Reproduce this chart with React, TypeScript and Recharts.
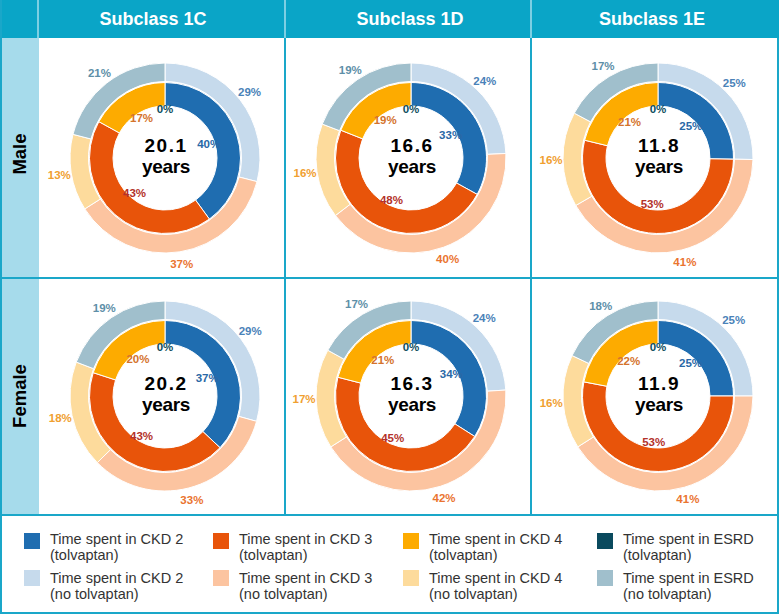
import { PieChart, Pie, Cell } from "recharts";

// stages shown in each ring, clockwise from 12 o'clock
const stages = ["CKD 2", "CKD 3", "CKD 4", "ESRD"];
const subclasses = ["Subclass 1C", "Subclass 1D", "Subclass 1E"];
const sexes = ["Male", "Female"];

// inner ring = tolvaptan, outer ring = no tolvaptan (% of time)
const maleTolvaptan = [
  [40, 43, 17, 0],
  [33, 48, 19, 0],
  [25, 53, 21, 0],
];
const maleNoTolvaptan = [
  [29, 37, 13, 21],
  [24, 40, 16, 19],
  [25, 41, 16, 17],
];
const femaleTolvaptan = [
  [37, 43, 20, 0],
  [34, 45, 21, 0],
  [25, 53, 22, 0],
];
const femaleNoTolvaptan = [
  [29, 33, 18, 19],
  [24, 42, 17, 17],
  [25, 41, 16, 18],
];
const maleYears = ["20.1", "16.6", "11.8"];
const femaleYears = ["20.2", "16.3", "11.9"];

const tolvColors = ["#1f6db0", "#e8540a", "#fdab00", "#0a4a5e"];
const noTolvColors = ["#c6daec", "#fcc4a0", "#fddb9c", "#a0bfcc"];
const innerLabelColors = ["#2a68a6", "#b3322a", "#d4732c", "#0e4e5e"];
const outerLabelColors = ["#4a82b8", "#ea7430", "#f0a030", "#5e8fa8"];

const FONT = "'Liberation Sans', Arial, sans-serif";
const TEAL = "#0aa5c7";
const LINE = "#1aa7c9";
const PALE = "#a6dbeb";

const colCenters = [165, 411, 658];
const rowCenters = [158, 396];
const headerCenters = [153, 410, 652];
const rowLabelCenters = [154, 396];
const BOX = 250;

const RAD = Math.PI / 180;
const makeLabel = (r: number, colors: string[]) => (props: any) => {
  const { cx, cy, midAngle, value, index } = props;
  // the empty ESRD slice sits a little higher, above the centre text
  const rr = value === 0 ? r + 3 : r;
  const x = cx + rr * Math.cos(-midAngle * RAD);
  const y = cy + rr * Math.sin(-midAngle * RAD);
  return (
    <text
      x={x}
      y={y}
      fill={colors[index]}
      textAnchor="middle"
      dominantBaseline="central"
      fontSize={11.5}
      fontWeight="bold"
      fontFamily={FONT}
    >
      {value}%
    </text>
  );
};

const Donut = ({ inner, outer, years }: { inner: number[]; outer: number[]; years: string }) => {
  const innerData = stages.map((s, i) => ({ name: s, value: inner[i] }));
  const outerData = stages.map((s, i) => ({ name: s, value: outer[i] }));
  const c = BOX / 2;
  return (
    <PieChart width={BOX} height={BOX} margin={{ top: 0, right: 0, bottom: 0, left: 0 }}>
      <Pie
        data={outerData}
        dataKey="value"
        cx={c}
        cy={c}
        innerRadius={76.5}
        outerRadius={95}
        startAngle={90}
        endAngle={-270}
        stroke="#fff"
        strokeWidth={1}
        labelLine={false}
        label={makeLabel(107, outerLabelColors)}
        isAnimationActive={false}
      >
        {outerData.map((d, i) => (
          <Cell key={d.name} fill={noTolvColors[i]} />
        ))}
      </Pie>
      <Pie
        data={innerData}
        dataKey="value"
        cx={c}
        cy={c}
        innerRadius={52}
        outerRadius={75.5}
        startAngle={90}
        endAngle={-270}
        stroke="#fff"
        strokeWidth={1}
        labelLine={false}
        label={makeLabel(46, innerLabelColors)}
        isAnimationActive={false}
      >
        {innerData.map((d, i) => (
          <Cell key={d.name} fill={tolvColors[i]} />
        ))}
      </Pie>
      <text textAnchor="middle" fontSize={19} fontWeight="bold" fontFamily={FONT} fill="#000">
        <tspan x={c + 1} y={c - 6.5} letterSpacing={1.5}>
          {years}
        </tspan>
        <tspan x={c + 1} y={c + 15} letterSpacing={-0.3}>
          years
        </tspan>
      </text>
    </PieChart>
  );
};

const legendCols = [
  { sw: 24, tx: 50 },
  { sw: 213, tx: 239 },
  { sw: 403, tx: 429 },
  { sw: 597, tx: 623 },
];

const abs = (left: number, top: number, width: number, height: number, extra: any = {}) => ({
  position: "absolute" as const,
  left,
  top,
  width,
  height,
  ...extra,
});

export default function App() {
  const tolv = [maleTolvaptan, femaleTolvaptan];
  const noTolv = [maleNoTolvaptan, femaleNoTolvaptan];
  const years = [maleYears, femaleYears];
  return (
    <div style={{ position: "absolute", left: 0, top: 0, width: 779, height: 614, background: "#fff", fontFamily: FONT, overflow: "hidden" }}>
      {/* header band */}
      <div style={abs(0, 0, 779, 37.5, { background: TEAL })} />
      <div style={abs(37, 0, 2, 37.5, { background: "#7dcfe3" })} />
      <div style={abs(284, 0, 2, 37.5, { background: "#7dcfe3" })} />
      <div style={abs(530, 0, 2, 37.5, { background: "#7dcfe3" })} />
      {subclasses.map((s, i) => (
        <div
          key={s}
          style={abs(headerCenters[i] - 100, 0, 200, 37, {
            color: "#fff",
            fontWeight: "bold",
            fontSize: 18,
            lineHeight: "38px",
            textAlign: "center",
          })}
        >
          {s}
        </div>
      ))}
      {/* row label column */}
      <div style={abs(0, 38, 38.5, 476, { background: PALE })} />
      {sexes.map((s, i) => (
        <div
          key={s}
          style={abs(20 - 60, rowLabelCenters[i] - 12, 120, 24, {
            transform: "rotate(-90deg)",
            textAlign: "center",
            fontWeight: "bold",
            fontSize: 18.5,
            lineHeight: "24px",
            color: "#000",
          })}
        >
          {s}
        </div>
      ))}
      {/* grid lines */}
      <div style={abs(0, 0, 1.5, 614, { background: LINE })} />
      <div style={abs(777, 37.5, 2, 577, { background: LINE })} />
      <div style={abs(284, 37.5, 2, 477, { background: LINE })} />
      <div style={abs(530, 37.5, 2, 477, { background: LINE })} />
      <div style={abs(0, 276.5, 779, 2, { background: LINE })} />
      <div style={abs(0, 514, 779, 2, { background: LINE })} />
      <div style={abs(0, 612, 779, 2, { background: LINE })} />
      {/* donuts */}
      {rowCenters.map((cy, r) =>
        colCenters.map((cx, c) => (
          <div key={`${r}-${c}`} style={abs(cx - BOX / 2, cy - BOX / 2, BOX, BOX)}>
            <Donut inner={tolv[r][c]} outer={noTolv[r][c]} years={years[r][c]} />
          </div>
        ))
      )}
      {/* legend */}
      {stages.map((s, i) =>
        [0, 1].map((k) => (
          <div key={`${s}-${k}`}>
            <div
              style={abs(legendCols[i].sw, k === 0 ? 533 : 570, 16, 15.5, {
                background: k === 0 ? tolvColors[i] : noTolvColors[i],
              })}
            />
            <div
              style={abs(legendCols[i].tx, k === 0 ? 531 : 569.5, 170, 34, {
                fontSize: 14.5,
                lineHeight: "16px",
                color: "#333",
                whiteSpace: "nowrap",
              })}
            >
              Time spent in {s}
              <br />
              {k === 0 ? "(tolvaptan)" : "(no tolvaptan)"}
            </div>
          </div>
        ))
      )}
    </div>
  );
}
